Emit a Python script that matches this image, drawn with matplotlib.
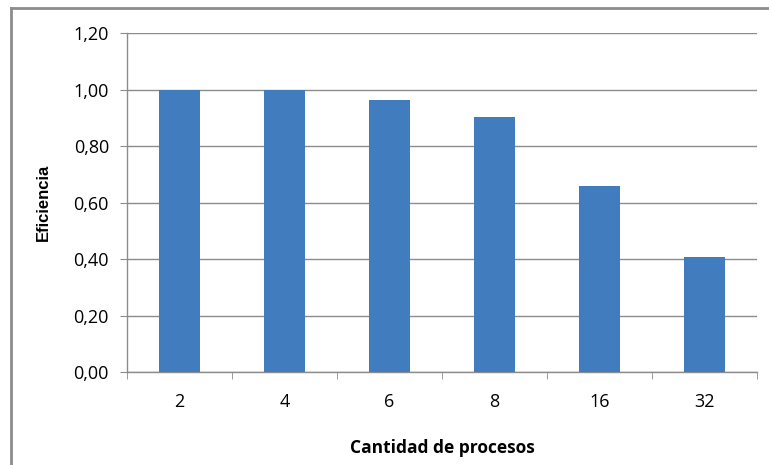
import matplotlib.pyplot as plt
from matplotlib.lines import Line2D
from matplotlib.ticker import FixedLocator, FuncFormatter

procesos = ["2", "4", "6", "8", "16", "32"]
eficiencia = [1.00, 1.00, 0.965, 0.902, 0.658, 0.408]

plt.rcParams['font.family'] = ['Open Sans', 'DejaVu Sans']

fig = plt.figure(figsize=(7.69, 4.65), dpi=100)
ax = fig.add_axes([127 / 769, 1 - 372.3 / 465, 630 / 769, 339 / 465])

x = range(len(procesos))
ax.bar(x, eficiencia, width=0.39, color='#417DBE', zorder=3)

ax.set_ylim(0, 1.2)
ax.set_xlim(-0.5, len(procesos) - 0.5)
ax.set_yticks([0, 0.2, 0.4, 0.6, 0.8, 1.0, 1.2])
ax.yaxis.set_major_formatter(FuncFormatter(lambda v, p: f"{v:.2f}".replace(".", ",")))
ax.grid(axis='y', color='#8c8c8c', linewidth=1.0, zorder=0)

ax.set_xticks(list(x))
ax.set_xticklabels(procesos)
ax.xaxis.set_minor_locator(FixedLocator([i - 0.5 for i in range(len(procesos) + 1)]))
ax.tick_params(axis='x', which='major', length=0, pad=15, labelsize=13)
ax.tick_params(axis='x', which='minor', length=5, color='#8c8c8c', direction='out')
ax.tick_params(axis='y', length=5, color='#8c8c8c', labelsize=13, pad=8)

for side in ('top', 'right'):
    ax.spines[side].set_visible(False)
for side in ('left', 'bottom'):
    ax.spines[side].set_color('#8c8c8c')
    ax.spines[side].set_linewidth(1.0)

ax.set_xlabel("Cantidad de procesos", fontsize=12.5, fontweight='bold', labelpad=20)
ax.set_ylabel("Eficiencia", fontsize=12, fontweight='bold', family='Liberation Sans', labelpad=16)

# chart area frame (left and top edges)
fig.add_artist(Line2D([10.5 / 769, 10.5 / 769], [0, 1 - 8 / 465], color='#8c8c8c', linewidth=2))
fig.add_artist(Line2D([10.5 / 769, 1], [1 - 8 / 465, 1 - 8 / 465], color='#8c8c8c', linewidth=2))

fig.savefig("out.png", dpi=100)
